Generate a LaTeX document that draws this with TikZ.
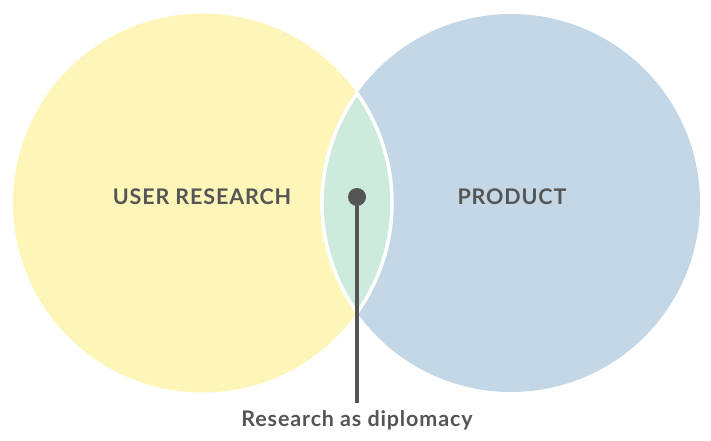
\documentclass[tikz,border=0pt]{standalone}
\usepackage{fontspec}
\setmainfont{Lato}
\newfontfamily\lblfont[LetterSpace=4]{Lato}
\definecolor{ycol}{HTML}{FEF5B8}
\definecolor{bcol}{HTML}{C3D7E6}
\definecolor{gcol}{HTML}{CDEBDD}
\definecolor{dgray}{HTML}{555555}
\begin{document}
\begin{tikzpicture}[x=1pt,y=-1pt,
  lbl/.style={text=dgray,font=\lblfont\bfseries\fontsize{21.5}{25}\selectfont,inner sep=0pt},
  dotst/.style={circle,fill=dgray,minimum size=18pt,inner sep=0pt}]
\useasboundingbox (0,0) rectangle (711,441);
\fill[ycol] (202.5,203) circle[radius=189.5];
\fill[bcol] (511,203) circle[radius=189];
\begin{scope}
  \clip (202.5,203) circle[radius=189.5];
  \fill[gcol] (511,203) circle[radius=189];
\end{scope}
\begin{scope}
  \clip (202.5,203) circle[radius=191.5];
  \draw[white,line width=3.5pt] (511,203) circle[radius=189];
\end{scope}
\begin{scope}
  \clip (511,203) circle[radius=191];
  \draw[white,line width=3.5pt] (202.5,203) circle[radius=189.5];
\end{scope}
\node[lbl] (ur) at (202,197) {USER RESEARCH};
\node[lbl] (prod) at (512,197) {PRODUCT};
\node[dotst] (dot) at (357,197) {};
\coordinate (end) at (357,403);
\draw[dgray,line width=4pt] (dot.center) -- (end);
\node[lbl] (cap) at (357,420) {Research as diplomacy};
\end{tikzpicture}
\end{document}
